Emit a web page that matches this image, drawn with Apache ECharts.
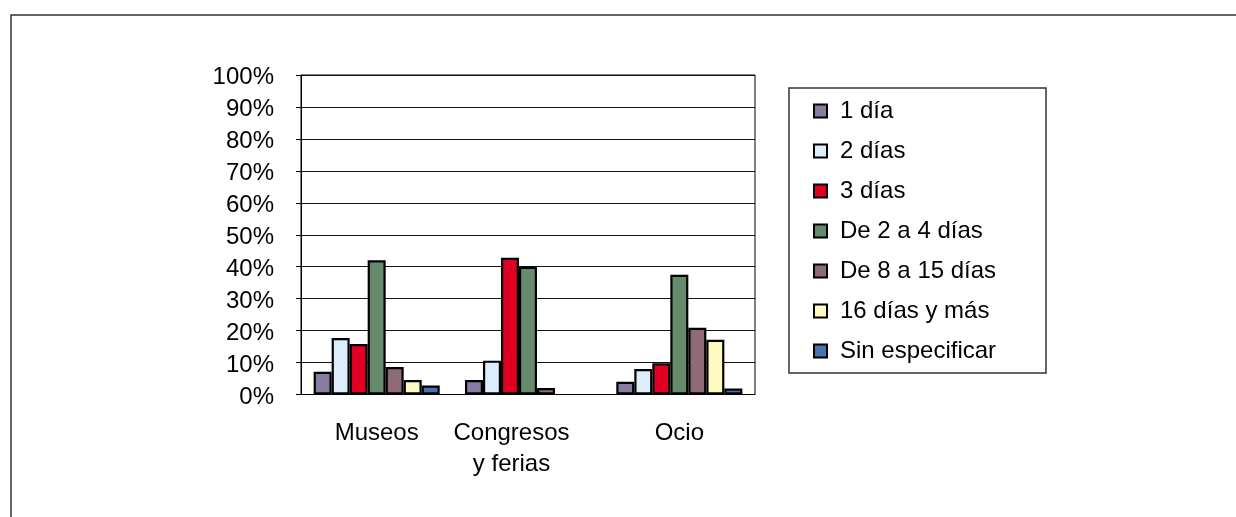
<!DOCTYPE html>
<html><head><meta charset="utf-8">
<script src="https://cdn.jsdelivr.net/npm/echarts@6/dist/echarts.min.js"></script>
<style>html,body{margin:0;padding:0;background:#fff}#c{width:1236px;height:517px}</style>
</head><body><div id="c"></div>
<script>
const categories = ['Museos', 'Congresos\ny ferias', 'Ocio'];
const seriesNames = ['1 día', '2 días', '3 días', 'De 2 a 4 días', 'De 8 a 15 días', '16 días y más', 'Sin especificar'];
const v1dia = [7.1, 4.5, 4.0];
const v2dias = [17.7, 10.6, 8.0];
const v3dias = [15.8, 42.8, 9.8];
const v2a4 = [42.0, 40.0, 37.5];
const v8a15 = [8.6, 2.0, 20.9];
const v16mas = [4.5, 0, 17.1];
const vSin = [2.8, 0, 1.9];
const colors = ['#8A7BA0', '#DCEEFC', '#E00024', '#658A6C', '#8F6B77', '#FFFAC0', '#4A74AE'];
const allValues = [v1dia, v2dias, v3dias, v2a4, v8a15, v16mas, vSin];
const yTicks = [0, 10, 20, 30, 40, 50, 60, 70, 80, 90, 100];

const chart = echarts.init(document.getElementById('c'));
const font = 'Liberation Sans, Arial, sans-serif';
chart.setOption({
  animation: false,
  backgroundColor: '#fff',
  textStyle: { fontFamily: font },
  graphic: [
    { type: 'rect', shape: { x: 11, y: 15, width: 1400, height: 700 }, style: { fill: 'none', stroke: '#333', lineWidth: 1.5 } },
    { type: 'rect', shape: { x: 789, y: 88, width: 257, height: 285 }, style: { fill: 'none', stroke: '#333', lineWidth: 1.5 } }
  ],
  legend: {
    orient: 'vertical', left: 808, top: 94,
    itemWidth: 13, itemHeight: 13, itemGap: 16,
    icon: 'rect',
    textStyle: { fontSize: 24, color: '#000', fontFamily: font, lineHeight: 24, padding: [0, 0, 0, 8] },
    data: seriesNames
  },
  grid: { left: 301, right: 481, top: 75, bottom: 122.5, show: true, borderColor: '#000', borderWidth: 1, containLabel: false },
  xAxis: {
    type: 'category', data: categories,
    axisLine: { lineStyle: { color: '#000', width: 1 } },
    axisTick: { show: false },
    axisLabel: {
      fontSize: 24, color: '#000', margin: 23, lineHeight: 31, interval: 0,
      formatter: function (v) {
        if (v.indexOf('\n') >= 0) return v.split('\n').map(s => '{s|' + s + '}').join('\n');
        return v;
      },
      rich: { s: { fontSize: 24, color: '#000', lineHeight: 31, padding: [0, 33, 0, 0], fontFamily: font } }
    }
  },
  yAxis: {
    type: 'value', min: 0, max: 100, interval: 10,
    axisLine: { show: true, lineStyle: { color: '#000', width: 1 } },
    axisTick: { show: true, length: 5, lineStyle: { color: '#000' } },
    splitLine: { lineStyle: { color: '#111', width: 1 } },
    axisLabel: {
      fontSize: 24, color: '#000', margin: 27,
      formatter: v => yTicks.includes(v) ? '{p|' + v + '%}' : '',
      rich: { p: { fontSize: 24, color: '#000', fontFamily: font, padding: [5, 0, 0, 0] } }
    }
  },
  series: seriesNames.map((n, i) => ({
    name: n, type: 'bar', data: allValues[i].map(v => v === 0 ? null : v),
    barGap: '0%', barCategoryGap: '16.7%',
    itemStyle: { color: colors[i], borderColor: '#000', borderWidth: 2.2 }
  }))
});
</script></body></html>
